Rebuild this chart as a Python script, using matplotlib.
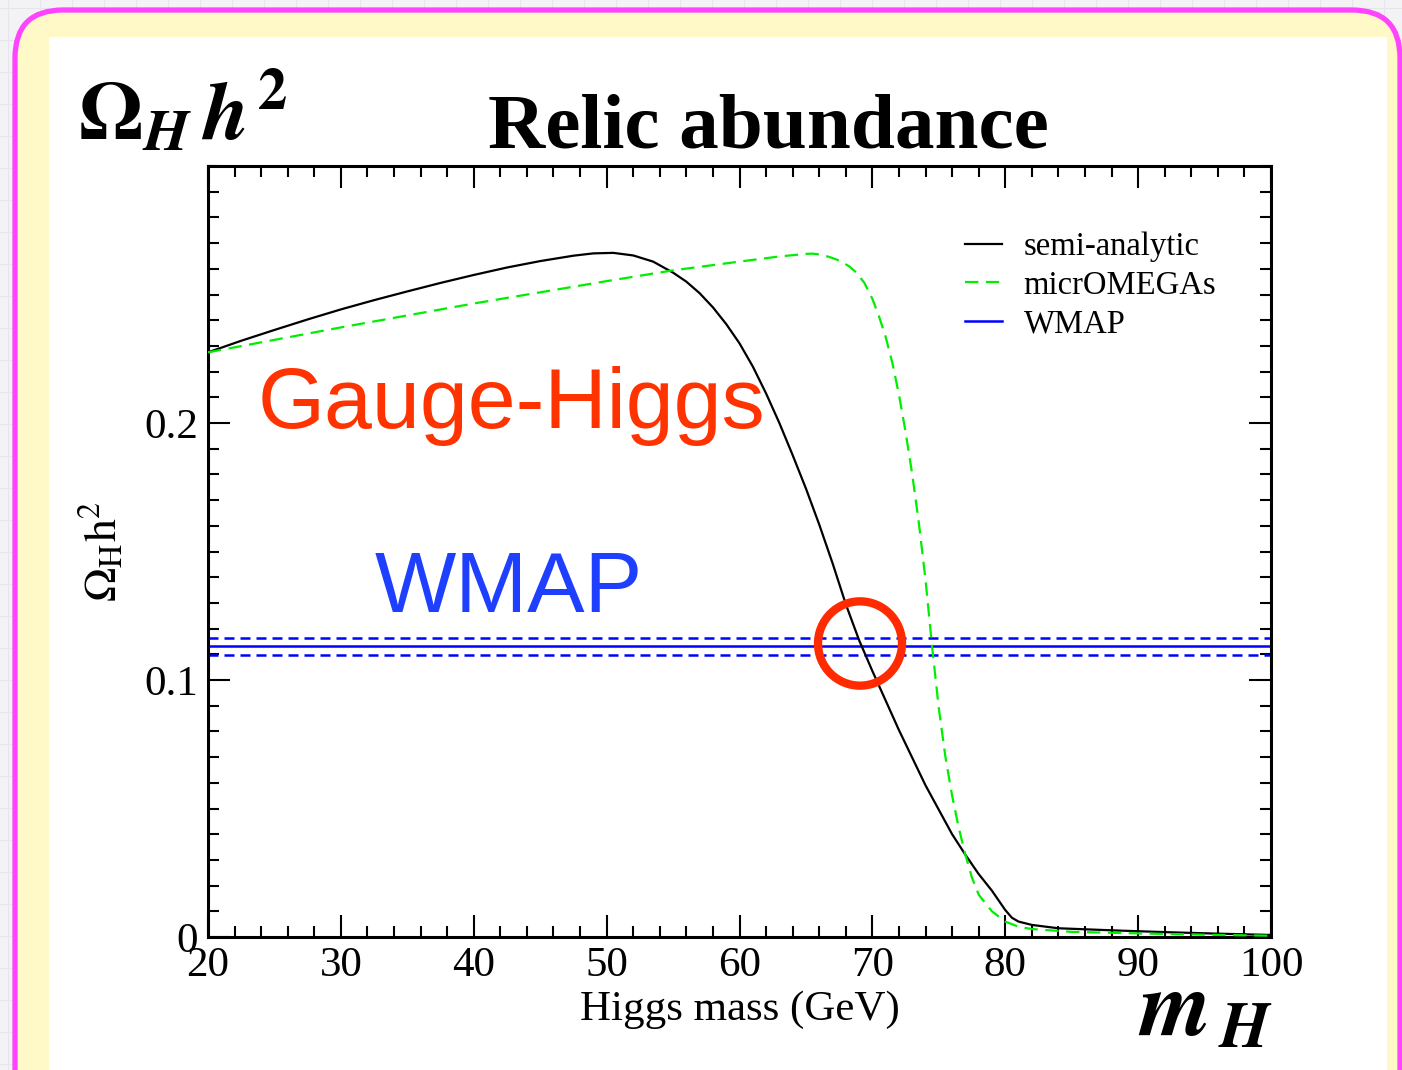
import matplotlib
matplotlib.use('Agg')
from matplotlib import pyplot as plt
from matplotlib.patches import FancyBboxPatch, Rectangle, Ellipse
import numpy as np

# Higgs mass (GeV) and relic abundance
mh_semi = [20, 22.5, 25, 27.5, 30, 32.5, 35, 37.5, 40, 42.5, 45, 47.5, 49,
           50.5, 52, 53.5, 55, 56, 57, 58, 59, 60, 61, 62, 63, 64, 65, 66,
           67, 68, 69, 70, 72, 74, 76, 77, 78, 79, 80, 80.5, 81, 82, 84, 88,
           92, 96, 100]
omega_semi = [0.2275, 0.2320, 0.2362, 0.2403, 0.2442, 0.2478, 0.2512, 0.2545,
              0.2576, 0.2605, 0.2630, 0.2651, 0.2660, 0.2662, 0.2652, 0.2628,
              0.2585, 0.2550, 0.2505, 0.2450, 0.2385, 0.2310, 0.2220, 0.2115,
              0.2000, 0.1875, 0.1745, 0.1605, 0.1455, 0.1295, 0.1155, 0.1035,
              0.0805, 0.0590, 0.0400, 0.0320, 0.0245, 0.0180, 0.0105, 0.0075,
              0.0060, 0.0047, 0.0034, 0.0026, 0.0019, 0.0013, 0.0008]

mh_micro = [20, 30, 40, 50, 55, 60, 63, 65, 65.5, 66, 66.5, 67, 67.6, 68.3,
            68.8, 69.4, 70, 70.5, 71, 71.5, 72, 72.5, 73, 73.5, 74, 74.5, 75,
            75.5, 76, 76.5, 77, 77.5, 78, 78.6, 79, 80, 81, 82, 85, 90, 95, 100]
omega_micro = [0.2275, 0.2372, 0.2465, 0.2552, 0.2594, 0.2628, 0.2648, 0.2658,
               0.2659, 0.2656, 0.2650, 0.2642, 0.2630, 0.2608, 0.2585, 0.2545,
               0.2483, 0.2415, 0.2335, 0.2235, 0.2110, 0.1965, 0.1800, 0.1610,
               0.1390, 0.1127, 0.0890, 0.0700, 0.0550, 0.0425, 0.0320, 0.0230,
               0.0165, 0.0125, 0.0100, 0.0060, 0.0040, 0.0031, 0.0020, 0.0014,
               0.0009, 0.0005]

wmap_central = 0.1131
wmap_low = 0.1096
wmap_high = 0.1165

xticks = [20, 30, 40, 50, 60, 70, 80, 90, 100]
yticks = [0, 0.1, 0.2]
ytick_labels = ['0', '0.1', '0.2']

plt.rcParams['font.family'] = 'serif'
plt.rcParams['font.serif'] = ['Liberation Serif', 'DejaVu Serif']
plt.rcParams['mathtext.fontset'] = 'stix'

W, H = 1402, 1070
fig = plt.figure(figsize=(W / 100, H / 100), dpi=100)

# slide background in pixel coordinates
bg = fig.add_axes([0, 0, 1, 1], zorder=-5)
bg.set_xlim(0, W)
bg.set_ylim(H, 0)
bg.axis('off')
bg.add_patch(Rectangle((0, 0), W, H, facecolor='#f3f3f5', edgecolor='none', zorder=0))
for gx in np.arange(8, W, 32):
    bg.plot([gx, gx], [0, H], color='#e4e6ec', lw=0.8, zorder=0.5)
for gy in np.arange(8, H, 32):
    bg.plot([0, W], [gy, gy], color='#e4e6ec', lw=0.8, zorder=0.5)
bg.add_patch(FancyBboxPatch((15, 10), 1385, 1200,
                            boxstyle='round,pad=0,rounding_size=48',
                            facecolor='#fff9c8', edgecolor='#ff44ff', lw=3.8,
                            zorder=1))
bg.add_patch(Rectangle((49, 37), 1338, 1100, facecolor='white',
                       edgecolor='none', zorder=2))

ax = fig.add_axes([208 / W, 1 - 937 / H, (1271 - 208) / W, (937 - 166) / H])
ax.set_facecolor('none')

ax.axhline(wmap_central, color='#0000ff', lw=1.8, label='WMAP', zorder=2)
ax.axhline(wmap_high, color='#0000ff', lw=1.8, ls=(0, (4, 2.4)), zorder=2)
ax.axhline(wmap_low, color='#0000ff', lw=1.8, ls=(0, (4, 2.4)), zorder=2)
ax.plot(mh_semi, omega_semi, color='black', lw=1.6, label='semi-analytic', zorder=3)
ax.plot(mh_micro, omega_micro, color='#00ee00', lw=1.6, ls=(0, (6, 3.4)),
        label='micrOMEGAs', zorder=3)

ax.set_xlim(20, 100)
ax.set_ylim(0, 0.3)
ax.set_xticks(xticks)
ax.set_xticks(np.arange(20, 101, 2), minor=True)
ax.set_yticks(yticks)
ax.set_yticklabels(ytick_labels)
ax.set_yticks(np.arange(0, 0.301, 0.01), minor=True)
ax.tick_params(which='both', direction='in', top=True, right=True, width=1.5,
               labelsize=31)
ax.tick_params(which='major', length=16)
ax.tick_params(which='minor', length=8)
ax.tick_params(axis='x', pad=7)
ax.tick_params(axis='y', pad=7)
for s in ax.spines.values():
    s.set_linewidth(2.2)

ax.set_xlabel('Higgs mass (GeV)', fontsize=31, labelpad=4)
ax.set_ylabel(r'$\Omega_{\mathrm{H}}\mathrm{h}^{2}$', fontsize=33)
ax.yaxis.set_label_coords((127 - 208) / (1271 - 208), 0.5)

handles, labels = ax.get_legend_handles_labels()
order = [labels.index('semi-analytic'), labels.index('micrOMEGAs'), labels.index('WMAP')]
ax.legend([handles[i] for i in order], [labels[i] for i in order],
          loc='upper left', bbox_to_anchor=(0.712, 0.915), frameon=False,
          fontsize=23.5, handlelength=1.15, handletextpad=0.65,
          labelspacing=0.25, borderpad=0, borderaxespad=0)

# red circle around the WMAP crossing
ax.add_patch(Ellipse((69.07, 0.1142), 6.32, 0.0328, fill=False,
                     edgecolor='#ff2a00', lw=6, zorder=4, clip_on=False))

ax.text((258 - 208) / (1271 - 208), (937 - 428) / (937 - 166), 'Gauge-Higgs',
        transform=ax.transAxes, fontsize=62, color='#ff3300',
        family='Liberation Sans', ha='left', va='baseline')
ax.text((375 - 208) / (1271 - 208), (937 - 612) / (937 - 166), 'WMAP',
        transform=ax.transAxes, fontsize=62, color='#1f3fff',
        family='Liberation Sans', ha='left', va='baseline')

fig.text(768 / W, 1 - 147 / H, 'Relic abundance', fontsize=57,
         fontweight='bold', ha='center', va='baseline')
fig.text(78 / W, 1 - 140 / H,
         r'$\mathbf{\Omega}_{\mathbfit{H}}\,\mathbfit{h}^{\,\mathbf{2}}$',
         fontsize=60, ha='left', va='baseline')
fig.text(1138 / W, 1 - 1036 / H, r'$\mathbfit{m}_{\,\mathbfit{H}}$',
         fontsize=66, ha='left', va='baseline')

fig.savefig('out.png', dpi=100)
